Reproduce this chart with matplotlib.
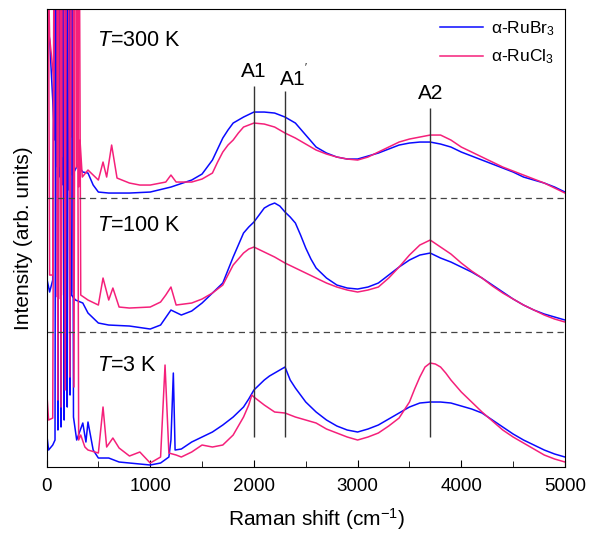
import matplotlib
matplotlib.use("Agg")
import matplotlib.pyplot as plt
from matplotlib.ticker import MultipleLocator

plt.rcParams["font.family"] = ["Liberation Sans", "DejaVu Sans"]
plt.rcParams["mathtext.fontset"] = "custom"
plt.rcParams["mathtext.rm"] = "Liberation Sans"
plt.rcParams["mathtext.it"] = "Liberation Sans:italic"

BLUE = "#0a0aff"
PINK = "#f5207a"

# T = 300 K (vertically offset spectra, arb. units)
shift_br_300 = [0, 30, 60, 80, 90, 105, 115, 130, 145, 160, 170, 185, 200, 215, 230, 250, 300, 350,
                400, 450, 500, 600, 800, 1000, 1200, 1400, 1500, 1600, 1650, 1700, 1750, 1800, 1900,
                2000, 2100, 2200, 2300, 2400, 2500, 2600, 2700, 2800, 2900, 3000, 3100, 3200, 3300,
                3400, 3500, 3600, 3700, 3800, 3900, 4000, 4100, 4200, 4300, 4400, 4500, 4600, 4700,
                4800, 4900, 5000]
int_br_300 = [457, 427, 367, 327, 967, 300, 967, 290, 967, 282, 967, 280, 967, 277, 967, 292, 302, 295,
              294, 282, 275, 274, 274, 275, 280, 287, 293, 307, 318, 329, 337, 344, 350,
              355, 355, 354, 350, 344, 332, 320, 314, 310, 308, 308, 311, 314, 318,
              322, 324, 325, 325, 323, 320, 315, 311, 307, 303, 299, 295, 290, 287,
              284, 280, 275]

shift_cl_300 = [0, 30, 80, 100, 115, 130, 145, 160, 175, 200, 240, 275, 290, 300, 310, 323, 345, 400,
                450, 500, 545, 580, 628, 680, 800, 900, 1000, 1150, 1200, 1250, 1400, 1500, 1600,
                1650, 1700, 1750, 1800, 1850, 1900, 1950, 2000, 2100, 2200, 2300, 2400, 2500, 2600,
                2700, 2800, 2900, 3000, 3100, 3200, 3300, 3400, 3500, 3600, 3700, 3800, 3900, 4000,
                4100, 4200, 4300, 4400, 4500, 4600, 4700, 4800, 4900, 5000]
int_cl_300 = [600, 430, 377, 1000, 300, 1000, 310, 1000, 310, 1000, 330, 1000, 300, 1000, 280, 327, 290, 297,
              292, 287, 305, 290, 322, 289, 284, 282, 282, 285, 292, 285, 285, 288, 294,
              305, 315, 322, 327, 334, 340, 342, 344, 343, 340, 334, 329, 323, 317,
              313, 310, 308, 307, 310, 315, 320, 325, 328, 330, 332, 332, 327, 320,
              315, 310, 305, 300, 296, 292, 288, 284, 279, 274]

# T = 100 K
shift_br_100 = [0, 30, 60, 95, 110, 125, 140, 155, 170, 185, 200, 215, 240, 280, 350, 400, 500, 600,
                800, 1000, 1100, 1200, 1300, 1400, 1500, 1600, 1700, 1750, 1800, 1850, 1900, 1950,
                2000, 2050, 2100, 2150, 2200, 2250, 2300, 2350, 2400, 2450, 2500, 2550, 2600, 2700,
                2800, 2900, 3000, 3100, 3200, 3300, 3400, 3500, 3600, 3700, 3800, 3900, 4000, 4100,
                4200, 4300, 4400, 4500, 4600, 4700, 4800, 4900, 5000]
int_br_100 = [190, 175, 187, 1000, 162, 1000, 160, 1000, 167, 1000, 170, 1000, 172, 167, 164, 154, 144, 142,
              141, 138, 142, 157, 152, 156, 164, 174, 184, 197, 210, 222, 234, 240,
              245, 252, 259, 262, 264, 261, 255, 250, 244, 232, 219, 208, 199, 189,
              182, 179, 178, 180, 184, 192, 200, 207, 212, 214, 209, 205, 200, 195,
              189, 182, 175, 168, 162, 157, 153, 150, 147]

shift_cl_100 = [0, 30, 60, 90, 105, 120, 135, 150, 165, 180, 220, 260, 280, 300, 330, 400, 500, 545,
                600, 640, 700, 800, 1000, 1100, 1150, 1200, 1250, 1400, 1500, 1600, 1700, 1750, 1800,
                1850, 1900, 1950, 2000, 2100, 2200, 2300, 2400, 2500, 2600, 2700, 2800, 2900, 3000,
                3100, 3200, 3300, 3400, 3500, 3600, 3700, 3800, 3900, 4000, 4100, 4200, 4300, 4400,
                4500, 4600, 4700, 4800, 4900, 5000]
int_cl_100 = [1000, 192, 192, 1000, 170, 1000, 168, 1000, 172, 175, 1000, 175, 1000, 1000, 172, 167, 162, 189,
              167, 179, 160, 159, 160, 165, 172, 180, 162, 164, 168, 174, 182, 192, 202,
              208, 214, 218, 220, 215, 210, 204, 199, 194, 189, 184, 180, 177, 175,
              177, 180, 189, 200, 212, 222, 227, 220, 213, 204, 196, 189, 181, 174,
              168, 162, 157, 152, 148, 145]

# T = 3 K
shift_br_3 = [0, 20, 60, 82, 95, 110, 125, 140, 155, 170, 185, 200, 215, 227, 240, 260, 291, 350, 380,
              400, 450, 500, 600, 700, 800, 1000, 1100, 1180, 1200, 1223, 1240, 1300, 1400, 1500,
              1600, 1700, 1800, 1900, 1950, 2000, 2050, 2100, 2150, 2200, 2250, 2300, 2350, 2400,
              2450, 2500, 2600, 2700, 2800, 2900, 3000, 3100, 3200, 3300, 3400, 3500, 3600, 3700,
              3800, 3900, 4000, 4100, 4200, 4300, 4400, 4500, 4600, 4700, 4800, 4900, 5000]
int_br_3 = [35, 17, 22, 27, 1000, 37, 1000, 40, 1000, 47, 1000, 60, 1000, 72, 1000, 50, 27, 44, 25,
            45, 17, 9, 9, 5, 4, 2, 4, 10, 27, 94, 17, 18, 25, 30,
            35, 42, 50, 60, 68, 77, 82, 87, 91, 94, 97, 100, 87, 79,
            72, 65, 55, 47, 41, 37, 35, 38, 42, 48, 54, 60, 64, 65,
            65, 64, 61, 58, 54, 47, 40, 33, 27, 22, 17, 13, 10]

shift_cl_3 = [0, 20, 60, 90, 110, 125, 140, 160, 180, 200, 225, 250, 265, 285, 310, 330, 370, 400,
              500, 545, 580, 640, 700, 800, 900, 1000, 1100, 1143, 1180, 1250, 1300, 1400, 1500,
              1600, 1700, 1800, 1900, 1950, 1980, 2000, 2050, 2100, 2200, 2300, 2400, 2500, 2600,
              2700, 2800, 2900, 3000, 3100, 3200, 3300, 3400, 3500, 3550, 3600, 3650, 3700, 3750,
              3800, 3850, 3900, 4000, 4100, 4200, 4300, 4400, 4500, 4600, 4700, 4800, 4900, 5000]
int_cl_3 = [79, 47, 49, 1000, 67, 1000, 60, 1000, 77, 1000, 90, 1000, 80, 1000, 27, 32, 20, 17,
            14, 60, 20, 29, 19, 11, 15, 4, 10, 102, 14, 12, 10, 15, 22,
            20, 22, 32, 50, 62, 72, 70, 66, 62, 55, 54, 50, 47, 44,
            38, 34, 30, 27, 30, 34, 41, 49, 65, 78, 90, 100, 104, 103,
            100, 94, 87, 75, 65, 55, 46, 37, 30, 24, 18, 12, 8, 5]

separators = [269.5, 134.7]
peak_names = ["A1", "A1$^{'}$", "A2"]
peak_pos = [2000, 2300, 3700]
temp_labels = ["$\\it{T}$=300 K", "$\\it{T}$=100 K", "$\\it{T}$=3 K"]

fig = plt.figure(figsize=(5.91, 5.33), dpi=100)
ax = fig.add_axes([0.0787, 0.1238, 0.8773, 0.8592])

ax.plot(shift_br_300, int_br_300, color=BLUE, lw=1.1, label="α-RuBr$_3$")
ax.plot(shift_cl_300, int_cl_300, color=PINK, lw=1.1, label="α-RuCl$_3$")
ax.plot(shift_br_100, int_br_100, color=BLUE, lw=1.1)
ax.plot(shift_cl_100, int_cl_100, color=PINK, lw=1.1)
ax.plot(shift_br_3, int_br_3, color=BLUE, lw=1.1)
ax.plot(shift_cl_3, int_cl_3, color=PINK, lw=1.1)

for y in separators:
    ax.axhline(y, color="#444444", lw=0.9, ls=(0, (5, 3.5)))

# peak markers
ax.vlines(peak_pos[0], 30, 381, color="#333333", lw=1.0)
ax.vlines(peak_pos[1], 30, 376, color="#333333", lw=1.0)
ax.vlines(peak_pos[2], 30, 359, color="#333333", lw=1.0)
ax.text(peak_pos[0], 396, peak_names[0], ha="center", va="center", fontsize=15)
ax.text(peak_pos[1] + 80, 390, peak_names[1], ha="center", va="center", fontsize=15)
ax.text(peak_pos[2], 374, peak_names[2], ha="center", va="center", fontsize=15)

ax.text(487, 427, temp_labels[0], ha="left", va="center", fontsize=15.5)
ax.text(487, 242, temp_labels[1], ha="left", va="center", fontsize=15.5)
ax.text(487, 102, temp_labels[2], ha="left", va="center", fontsize=15.5)

ax.set_xlim(0, 5000)
ax.set_ylim(0, 458)
ax.xaxis.set_major_locator(MultipleLocator(1000))
ax.xaxis.set_minor_locator(MultipleLocator(500))
ax.tick_params(axis="x", which="both", direction="in", labelsize=13.5, pad=8)
ax.tick_params(axis="x", which="major", length=5)
ax.tick_params(axis="x", which="minor", length=4)
ax.set_yticks([])

ax.set_xlabel("Raman shift (cm$^{-1}$)", fontsize=15)
ax.set_ylabel("Intensity (arb. units)", fontsize=15)
ax.xaxis.set_label_coords(0.52, -0.085)
ax.yaxis.set_label_coords(-0.026, 0.5)

ax.legend(loc="upper right", frameon=False, fontsize=12.5, handlelength=2.5,
          handletextpad=0.45, labelspacing=0.55, borderaxespad=0.2)

fig.savefig("out.png", dpi=100)
